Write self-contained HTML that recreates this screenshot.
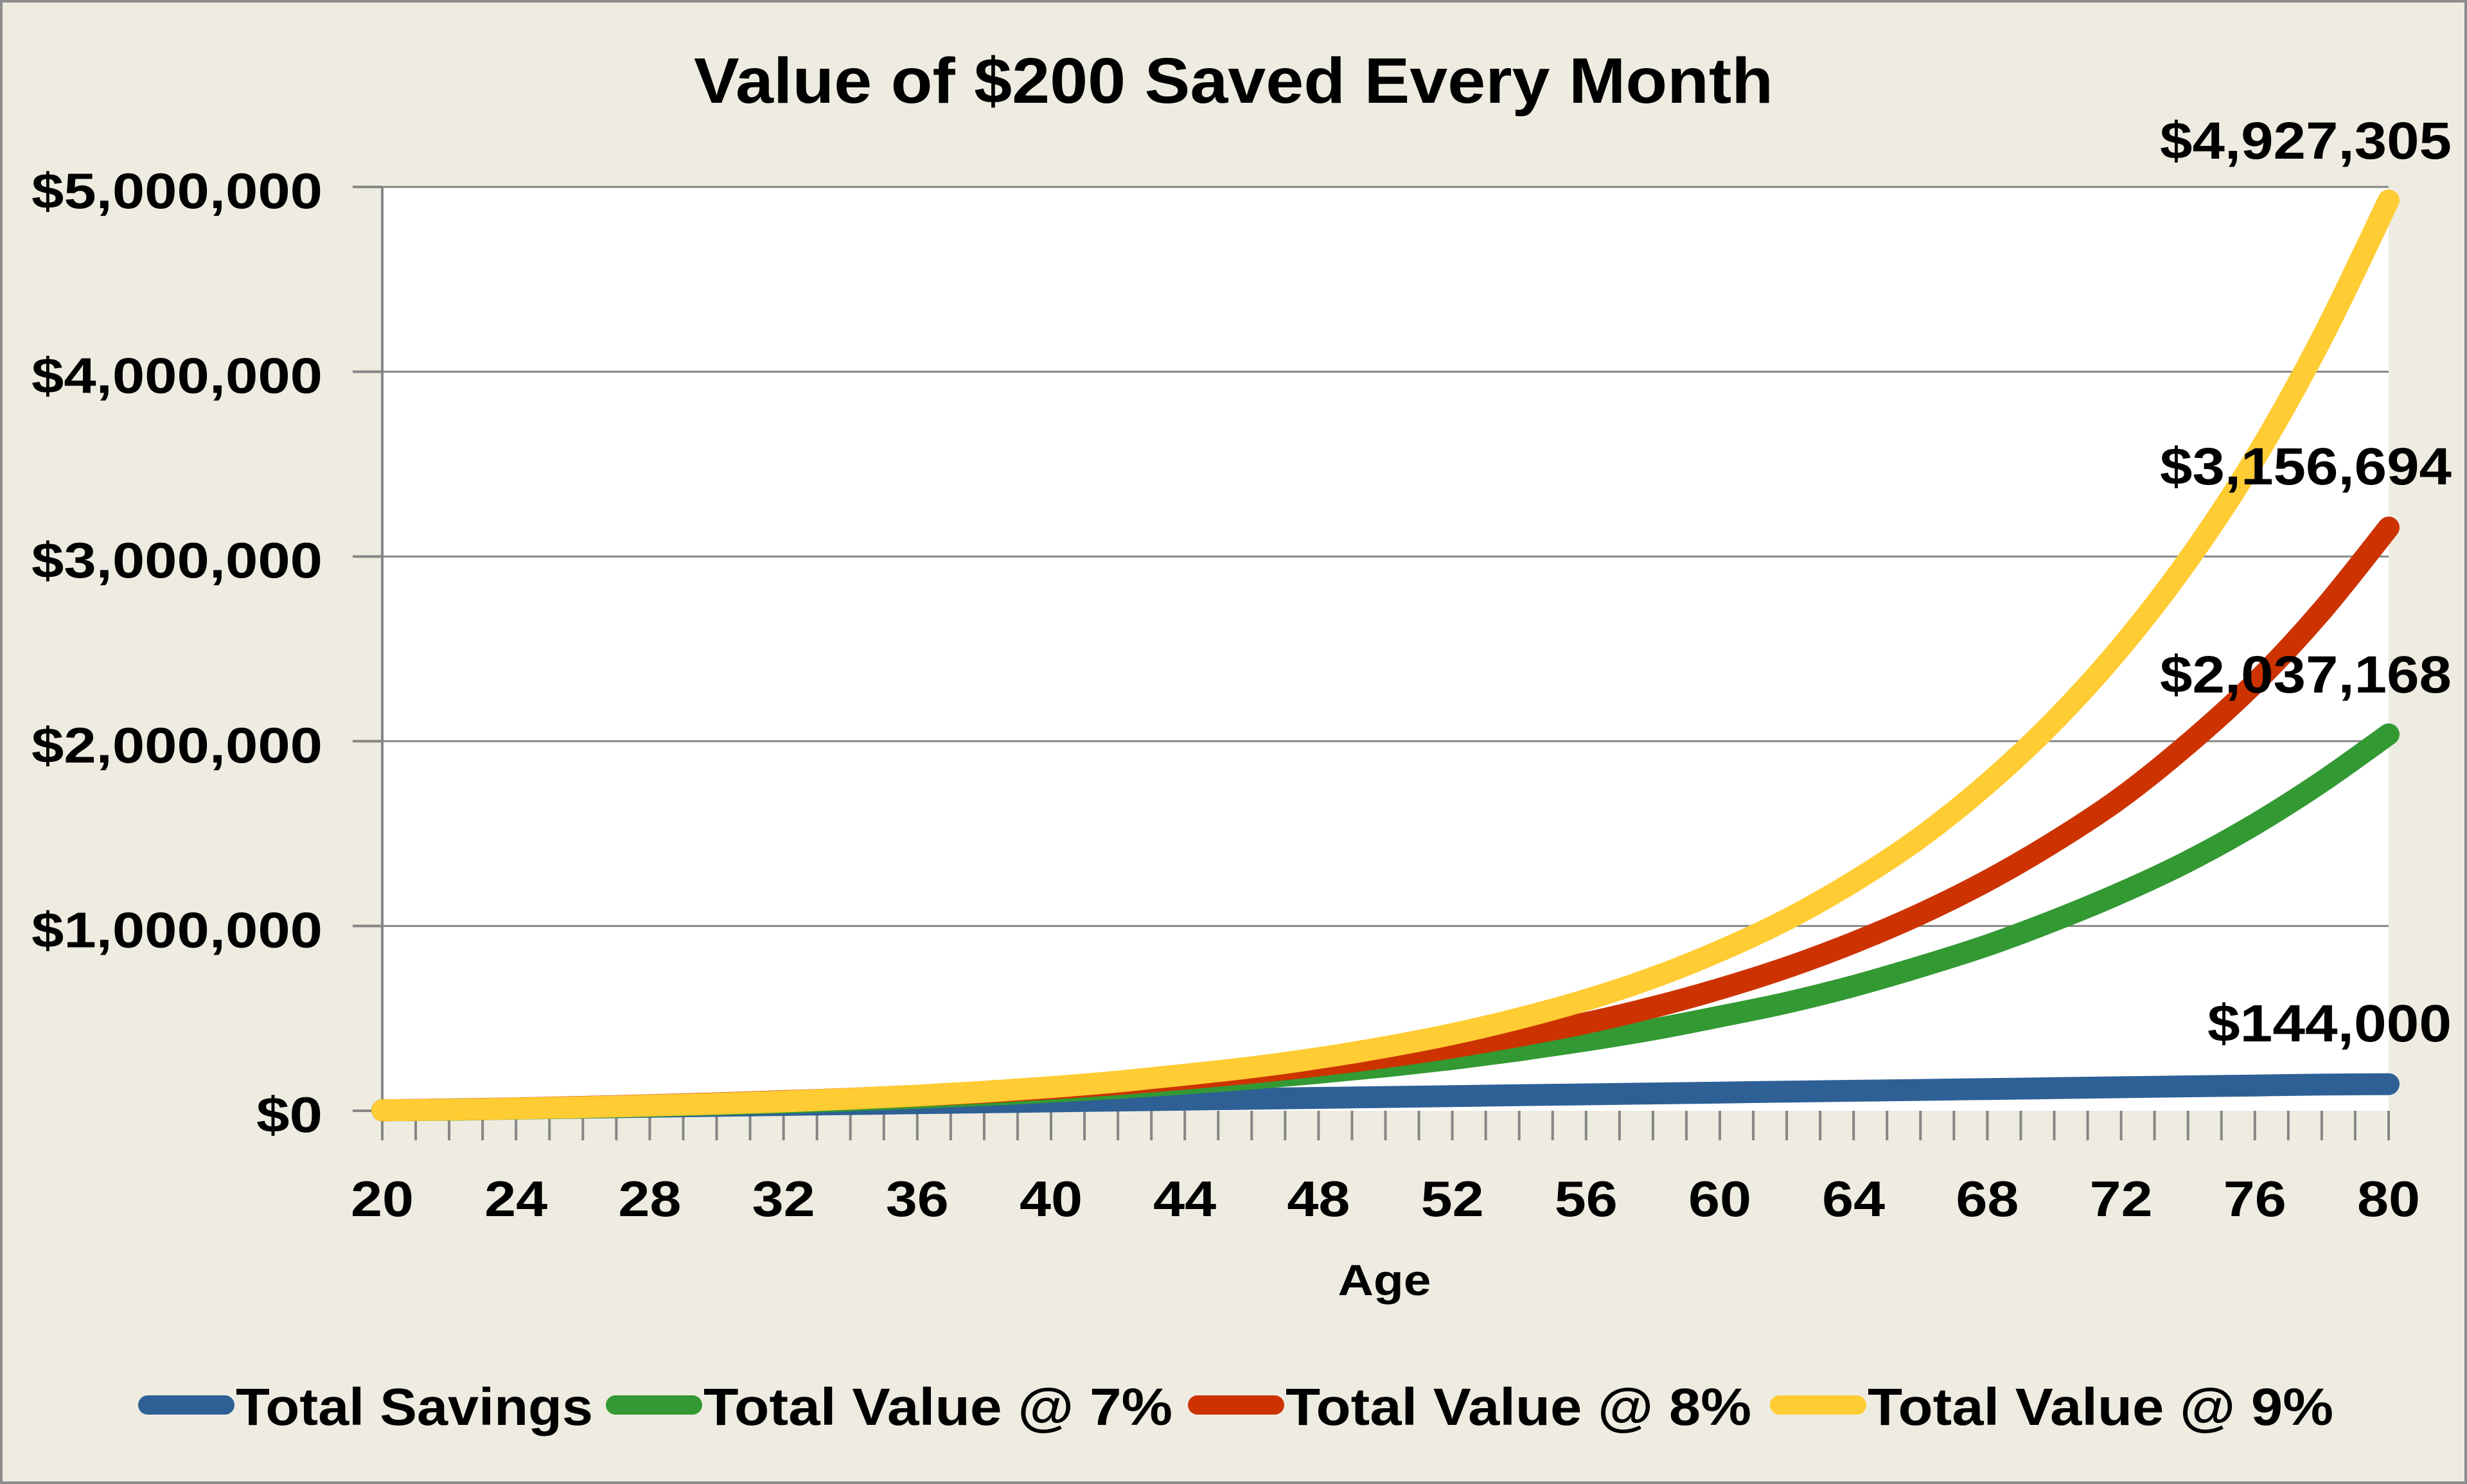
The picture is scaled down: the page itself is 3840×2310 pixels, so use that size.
<!DOCTYPE html>
<html><head><meta charset="utf-8"><style>
html,body{margin:0;padding:0;background:#EEECE1;}
svg{display:block;font-family:"Liberation Sans",sans-serif;font-weight:bold;}
</style></head><body>
<svg id="chart" width="3840" height="2310" viewBox="0 0 3840 2310">
<rect x="2" y="2" width="3836" height="2306" fill="#EEECE1" stroke="#8c8c8c" stroke-width="4"/>
<rect x="595" y="291" width="3123" height="1438" fill="#fff"/>
<text x="1920" y="160" text-anchor="middle" font-size="100" textLength="1680" lengthAdjust="spacingAndGlyphs">Value of $200 Saved Every Month</text>
<g id="grid"></g><g id="axes"></g><g id="lines"></g><g id="labels"></g>
<text x="2155" y="2016" text-anchor="middle" font-size="68" textLength="145" lengthAdjust="spacingAndGlyphs">Age</text>
<g id="legend"></g>
</svg>
<script>
const ages=[20,22,24,26,28,30,32,34,36,38,40,42,44,46,48,50,52,54,56,58,60,62,64,66,68,70,72,74,76,78,80];
const savings=[2400,7200,12000,16800,21600,26400,31200,36000,40800,45600,50400,55200,60000,64800,69600,74400,79200,84000,88800,93600,98400,103200,108000,112800,117600,122400,127200,132000,136800,141600,144000];
const v7=[2400,5000,11000,17000,25000,34000,44000,56000,70000,85000,103000,123000,147000,174000,205000,240000,280000,327000,380000,440000,510000,585000,675000,780000,895000,1030000,1180000,1350000,1550000,1780000,2037168];
const v8=[2400,7000,13000,21000,30000,40000,52000,65000,81000,99000,120000,144000,173000,206000,245000,290000,343000,405000,475000,560000,660000,775000,910000,1065000,1245000,1455000,1695000,1985000,2315000,2705000,3156694];
const v9=[2400,6000,12000,19000,28000,38000,50000,65000,82000,103000,128000,158000,195000,235000,285000,345000,415000,500000,600000,720000,865000,1035000,1240000,1480000,1770000,2110000,2510000,2980000,3530000,4180000,4927305];
const yTicks=[0,1000000,2000000,3000000,4000000,5000000];
const yTickLabels=["$0","$1,000,000","$2,000,000","$3,000,000","$4,000,000","$5,000,000"];
const xTickLabels=[20,24,28,32,36,40,44,48,52,56,60,64,68,72,76,80];
const seriesNames=["Total Savings","Total Value @ 7%","Total Value @ 8%","Total Value @ 9%"];
const endLabels=["$144,000","$2,037,168","$3,156,694","$4,927,305"];
const NS="http://www.w3.org/2000/svg";
const X0=595,X1=3718,Y0=1729,Y1=291;
const xs=a=>X0+(a-20)/60*(X1-X0);
const ys=v=>Y0-v/5000000*(Y0-Y1);
function mk(t,attrs,parent,txt){const e=document.createElementNS(NS,t);for(const k in attrs)e.setAttribute(k,attrs[k]);if(txt!==undefined)e.textContent=txt;document.getElementById(parent).appendChild(e);return e;}
yTicks.forEach((v,i)=>{
 if(v>0){const g=mk('line',{x1:X0,x2:X1,y1:ys(v),y2:ys(v),stroke:'#868686','stroke-width':3},'grid');
 
 }
 const t=mk('line',{x1:X0-46,x2:X0,y1:ys(v),y2:ys(v),stroke:'#868686','stroke-width':4},'axes');
 
 
 const l=mk('text',{x:502,y:ys(v)+33,'text-anchor':'end','font-size':78,textLength:(v==0?103:453),lengthAdjust:'spacingAndGlyphs'},'labels',yTickLabels[i]);
 
 
});
const ya=mk('line',{x1:X0,x2:X0,y1:Y1,y2:Y0+46,stroke:'#868686','stroke-width':4},'axes');


for(let a=20;a<=80;a++){const t=mk('line',{x1:xs(a),x2:xs(a),y1:Y0,y2:Y0+46,stroke:'#868686','stroke-width':4},'axes');
 
 }
xTickLabels.forEach(a=>{const l=mk('text',{x:xs(a),y:1893,'text-anchor':'middle','font-size':78,textLength:98,lengthAdjust:'spacingAndGlyphs'},'labels',String(a));
 
 });
const colors=['#2E6096','#339933','#CC3300','#FFCC33'];
const data=[savings,v7,v8,v9];
function smooth(pts){let d='M'+pts[0][0].toFixed(1)+' '+pts[0][1].toFixed(1);
 for(let i=0;i<pts.length-1;i++){const p0=pts[i-1]||pts[i],p1=pts[i],p2=pts[i+1],p3=pts[i+2]||p2;
  const c1=[p1[0]+(p2[0]-p0[0])/6,p1[1]+(p2[1]-p0[1])/6],c2=[p2[0]-(p3[0]-p1[0])/6,p2[1]-(p3[1]-p1[1])/6];
  d+=' C'+c1[0].toFixed(1)+' '+c1[1].toFixed(1)+' '+c2[0].toFixed(1)+' '+c2[1].toFixed(1)+' '+p2[0].toFixed(1)+' '+p2[1].toFixed(1);}
 return d;}
data.forEach((s,i)=>{const pts=s.map((v,j)=>[xs(ages[j]),ys(v)]);
 const p=mk('path',{d:smooth(pts),fill:'none',stroke:colors[i],'stroke-width':34,'stroke-linejoin':'round','stroke-linecap':'round'},'lines');
 
 
 const lbl=mk('text',{x:3816,y:i==0?1621:(i==1?1078:(i==2?754:247)),'text-anchor':'end','font-size':82,textLength:(i==0?380:454),lengthAdjust:'spacingAndGlyphs'},'labels',endLabels[i]);
 
 
});
const legX=[[215,367,556],[943,1095,730],[1849,2001,725],[2755,2907,725]];
seriesNames.forEach((n,i)=>{
 const l=mk('line',{x1:legX[i][0]+15,x2:legX[i][0]+135,y1:2187,y2:2187,stroke:colors[i],'stroke-width':30,'stroke-linecap':'round'},'legend');
 
 
 const t=mk('text',{x:legX[i][1],y:2218,'font-size':82,textLength:legX[i][2],lengthAdjust:'spacingAndGlyphs'},'legend',n);
 
 
});
</script>
</body></html>
